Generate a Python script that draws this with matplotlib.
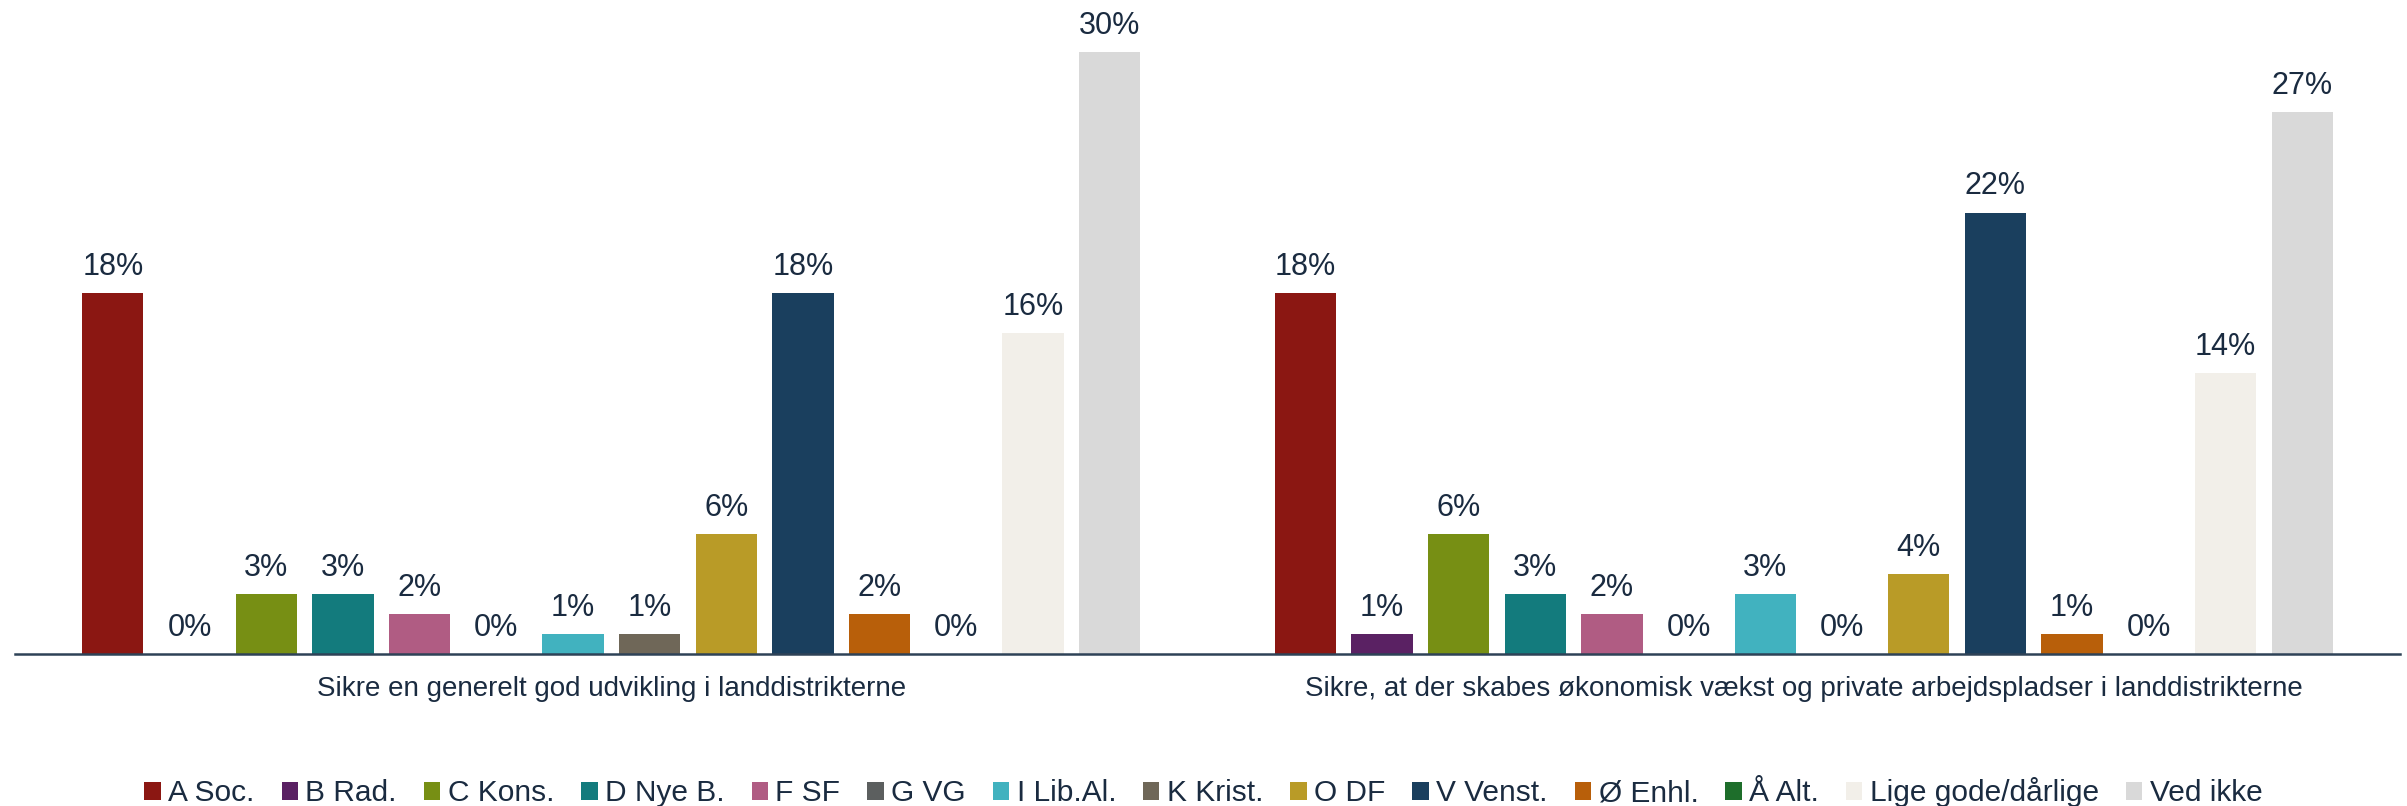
import matplotlib.pyplot as plt
import numpy as np
from matplotlib.patches import Patch

plt.rcParams['font.family'] = ['Liberation Sans', 'DejaVu Sans']

categories = ['Sikre en generelt god udvikling i landdistrikterne',
              'Sikre, at der skabes økonomisk vækst og private arbejdspladser i landdistrikterne']
parties = ['A Soc.', 'B Rad.', 'C Kons.', 'D Nye B.', 'F SF', 'G VG', 'I Lib.Al.',
           'K Krist.', 'O DF', 'V Venst.', 'Ø Enhl.', 'Å Alt.', 'Lige gode/dårlige', 'Ved ikke']
colors = ['#8B1712', '#5A2163', '#778F14', '#137B7D', '#B05C83', '#5C5F5F', '#41B2BF',
          '#6F6758', '#B99B27', '#1A3F5E', '#B85F0A', '#1E6E2B', '#F2EFE9', '#D9D9D9']
values = {
    categories[0]: [18, 0, 3, 3, 2, 0, 1, 1, 6, 18, 2, 0, 16, 30],
    categories[1]: [18, 1, 6, 3, 2, 0, 3, 0, 4, 22, 1, 0, 14, 27],
}

text_color = '#1A2B40'

fig = plt.figure(figsize=(24.07, 8.06), dpi=100)
ax = fig.add_axes([15 / 2407, 1 - 654 / 806, 2385 / 2407, 634 / 806])

n = len(parties)
step = 0.0643
width = 0.0514
x = np.arange(len(categories))
for i, (party, col) in enumerate(zip(parties, colors)):
    vals = [values[c][i] for c in categories]
    pos = x + (i - (n - 1) / 2) * step
    bars = ax.bar(pos, vals, width=width, color=col)
    for b, v in zip(bars, vals):
        ax.annotate(f'{v}%', (b.get_x() + b.get_width() / 2, v),
                    xytext=(0, 8), textcoords='offset points',
                    ha='center', va='bottom', fontsize=22, color=text_color)

ax.set_xlim(-0.5, 1.5)
ax.set_ylim(0, 31.6)
ax.set_xticks(x)
ax.set_xticklabels(categories, fontsize=20, color=text_color)
ax.tick_params(axis='x', length=0, pad=16)
ax.set_yticks([])
for s in ['top', 'left', 'right']:
    ax.spines[s].set_visible(False)
ax.spines['bottom'].set_color('#2E4257')
ax.spines['bottom'].set_linewidth(1.8)

handles = [Patch(facecolor=c, label=p) for p, c in zip(parties, colors)]
fig.legend(handles=handles, loc='lower center', bbox_to_anchor=(0.5, -0.035), ncol=n,
           frameon=False, fontsize=21.5, handlelength=0.55, handleheight=0.55,
           handletextpad=0.25, columnspacing=0.9, labelcolor=text_color)

fig.savefig('out.png', dpi=100)
